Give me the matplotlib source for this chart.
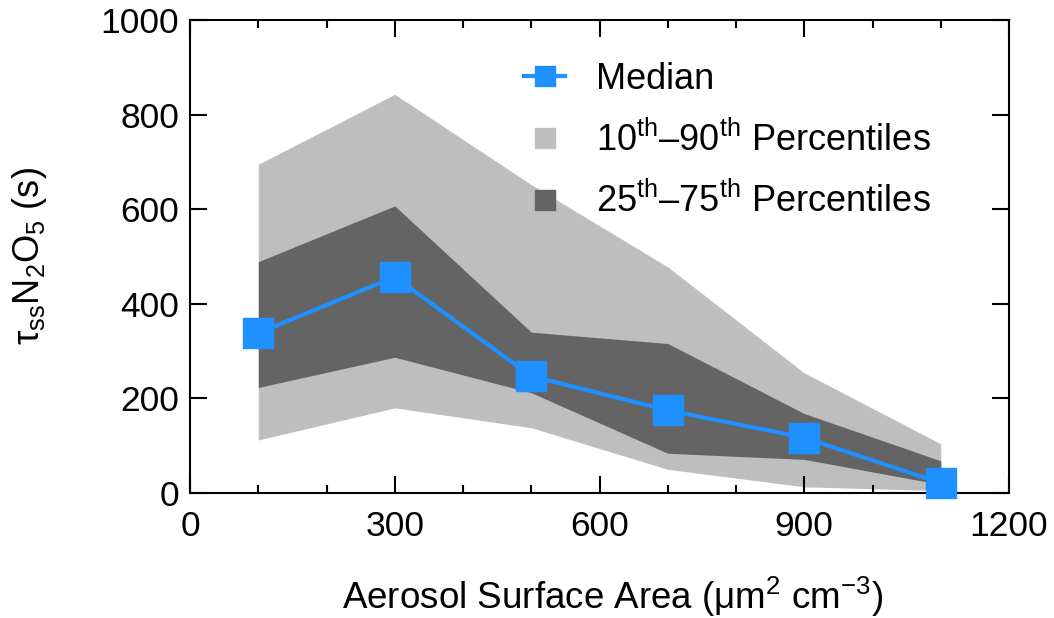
#!/usr/bin/env python3
"""
Steady-state N2O5 lifetime vs aerosol surface area, with percentile bands.
"""
import matplotlib
matplotlib.use("Agg")
import matplotlib.pyplot as plt
from matplotlib.lines import Line2D
from matplotlib.ticker import MultipleLocator

# binned aerosol surface area (um2 cm-3)
surface_area = [100, 300, 500, 700, 900, 1100]
# lifetime statistics (s)
median = [338, 457, 247, 175, 117, 21]
p10 = [112, 180, 138, 50, 13, 5]
p25 = [223, 287, 212, 84, 71, 18]
p75 = [489, 607, 340, 316, 168, 68]
p90 = [695, 843, 652, 478, 254, 104]

x_ticks = [0, 300, 600, 900, 1200]
y_ticks = [0, 200, 400, 600, 800, 1000]

plt.rcParams['font.family'] = ['Liberation Sans', 'DejaVu Sans']
plt.rcParams['mathtext.fontset'] = 'custom'
plt.rcParams['mathtext.rm'] = 'Liberation Sans'
plt.rcParams['mathtext.it'] = 'Liberation Sans:italic'
plt.rcParams['mathtext.bf'] = 'Liberation Sans:bold'

fig = plt.figure(figsize=(10.54, 6.18), dpi=100)
ax = fig.add_axes([0.1803, 0.2023, 0.7770, 0.7653])

light = '#bebebe'
dark = '#646464'
blue = '#1e90ff'

ax.fill_between(surface_area, p10, p90, color=light, lw=0)
ax.fill_between(surface_area, p25, p75, color=dark, lw=0)
ax.plot(surface_area, median, color=blue, lw=3, marker='s', ms=21,
        clip_on=False, zorder=5)

ax.set_xlim(0, 1200)
ax.set_ylim(0, 1000)
ax.set_xticks(x_ticks)
ax.set_yticks(y_ticks)
ax.xaxis.set_minor_locator(MultipleLocator(100))

for s in ax.spines.values():
    s.set_linewidth(1.5)
ax.tick_params(which='both', direction='in', top=True, right=True,
               width=1.5, labelsize=25.5)
ax.tick_params(which='major', length=12.5)
ax.tick_params(which='minor', length=6)
ax.tick_params(axis='x', pad=12)
ax.tick_params(axis='y', pad=8)

ax.set_xlabel(r'Aerosol Surface Area ($\mathrm{\mu}$m$^2$ cm$^{-3}$)',
              fontsize=26.5)
ax.xaxis.set_label_coords(0.516, -0.172)
ax.set_ylabel(r'$\mathrm{\tau}_{\rm ss}$N$_2$O$_5$ (s)', fontsize=26,
              labelpad=37)

handles = [
    Line2D([], [], color=blue, lw=3, marker='s', ms=14),
    Line2D([], [], color=light, ls='none', marker='s', ms=14),
    Line2D([], [], color=dark, ls='none', marker='s', ms=14),
]
labels = ['Median',
          r'10$^{\rm th}$–90$^{\rm th}$ Percentiles',
          r'25$^{\rm th}$–75$^{\rm th}$ Percentiles']
ax.legend(handles, labels, loc='upper left', bbox_to_anchor=(0.39, 0.942),
          frameon=False, fontsize=26, handlelength=1.15, handletextpad=0.85,
          labelspacing=0.68, borderaxespad=0)

fig.savefig('out.png', dpi=100)
